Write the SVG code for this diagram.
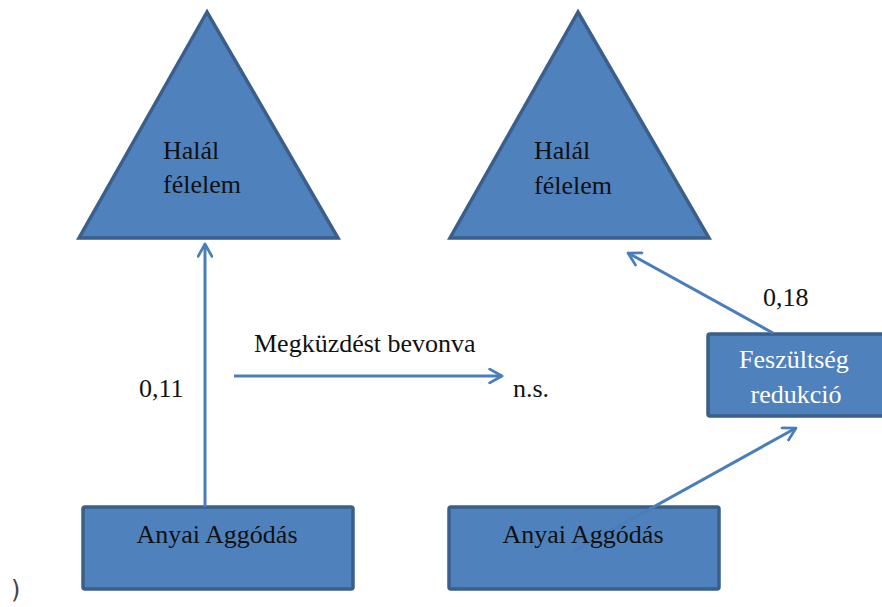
<svg xmlns="http://www.w3.org/2000/svg" width="882" height="607" viewBox="0 0 882 607">
  <style>
    .shape { fill: #4F81BD; stroke: #3A5F8B; stroke-width: 3.5; stroke-linejoin: miter; }
    .box { fill: #4F81BD; stroke: #3A5F8B; stroke-width: 3.5; }
    .lbl { font-family: "Liberation Serif", "Times New Roman", serif; font-size: 26px; fill: #111; }
    .wlbl { font-family: "Liberation Serif", "Times New Roman", serif; font-size: 26px; fill: #fff; }
    .conn { fill: none; stroke: #4A7EBB; stroke-width: 3; marker-end: url(#open); }
  </style>
  <defs>
    <marker id="open" viewBox="0 0 12 12" refX="10" refY="6" markerWidth="5.5" markerHeight="5.5" orient="auto" markerUnits="strokeWidth">
      <path d="M1,1 L10,6 L1,11" fill="none" stroke="#4A7EBB" stroke-width="2" stroke-linecap="round" stroke-linejoin="round"/>
    </marker>
  </defs>

  <rect width="882" height="607" fill="#fff"/>

  <!-- Left death-anxiety triangle -->
  <g id="halal-left">
    <polygon class="shape" points="207,12 79,238 338,238"/>
    <text class="lbl" x="163" y="159">Halál</text>
    <text class="lbl" x="163" y="193">félelem</text>
  </g>

  <!-- Right death-anxiety triangle -->
  <g id="halal-right">
    <polygon class="shape" points="578,12 450,238 709,238"/>
    <text class="lbl" x="534" y="159">Halál</text>
    <text class="lbl" x="534" y="194">félelem</text>
  </g>

  <!-- Tension reduction box -->
  <g id="feszultseg">
    <rect class="box" x="708" y="334" width="180" height="82" rx="2"/>
    <text class="wlbl" x="794" y="368" text-anchor="middle">Feszültség</text>
    <text class="wlbl" x="796" y="403" text-anchor="middle">redukció</text>
  </g>

  <!-- Maternal worry boxes -->
  <g id="anyai-left">
    <rect class="box" x="83" y="507" width="270" height="82" rx="2"/>
  </g>
  <g id="anyai-right">
    <rect class="box" x="449" y="507" width="270" height="82" rx="2"/>
  </g>

  <!-- Connectors -->
  <g id="connectors">
    <line class="conn" x1="205" y1="507" x2="205" y2="244"/>
    <line class="conn" x1="234" y1="376" x2="502" y2="376"/>
    <line class="conn" x1="773" y1="333" x2="628" y2="253"/>
    <line class="conn" x1="574" y1="551" x2="796" y2="428"/>
  </g>

  <!-- Box captions drawn over connectors -->
  <g id="captions">
    <text class="lbl" x="217" y="543" text-anchor="middle">Anyai Aggódás</text>
    <text class="lbl" x="583" y="543" text-anchor="middle">Anyai Aggódás</text>
  </g>

  <!-- Coefficients and notes -->
  <g id="labels">
    <text class="lbl" x="139" y="397">0,11</text>
    <text class="lbl" x="254" y="352">Megküzdést bevonva</text>
    <text class="lbl" x="513" y="397">n.s.</text>
    <text class="lbl" x="763" y="306">0,18</text>
  </g>

  <text x="11" y="598" font-family="DejaVu Sans, sans-serif" font-size="24" fill="#444">)</text>
</svg>
